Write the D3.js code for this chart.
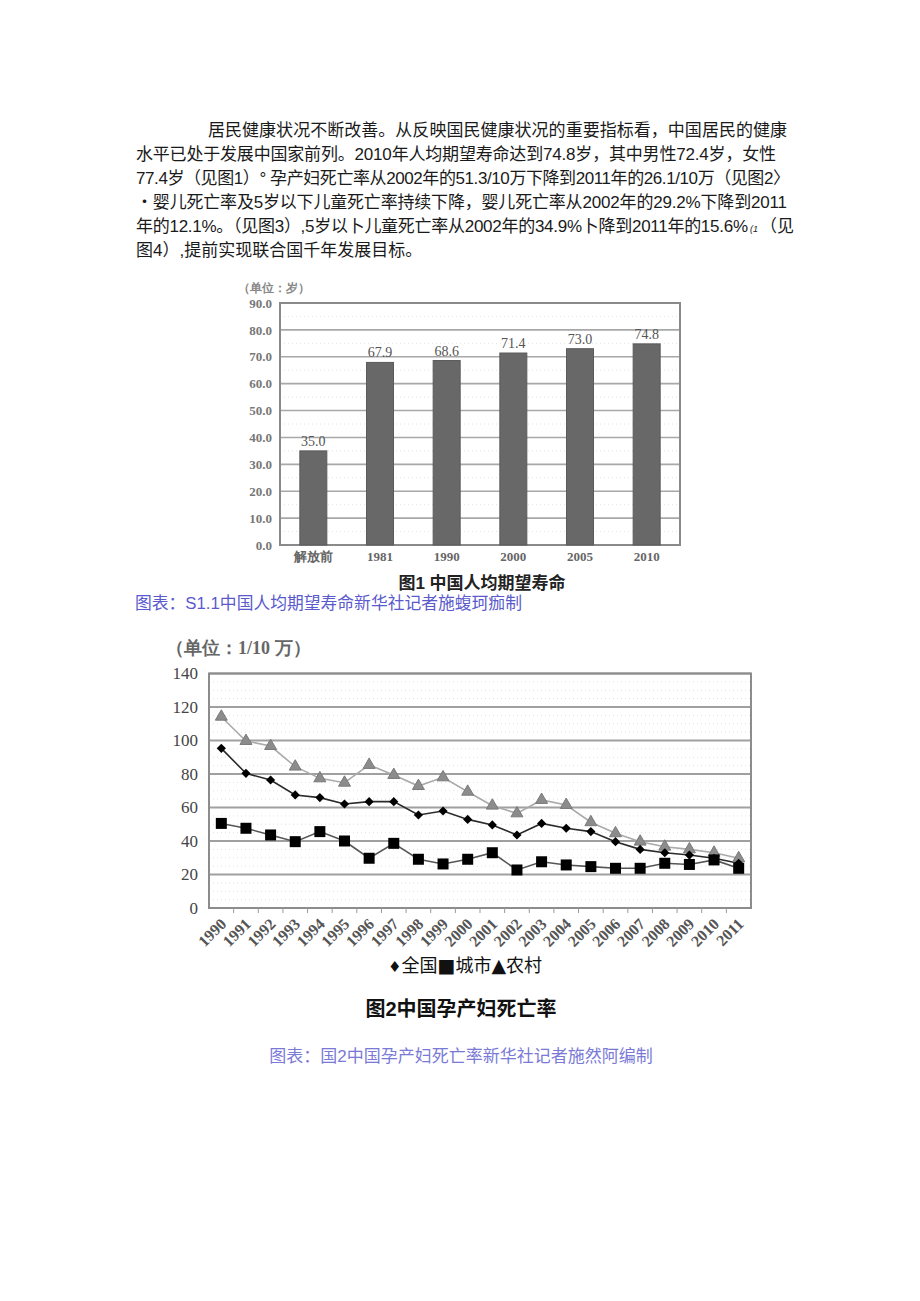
<!DOCTYPE html>
<html>
<head>
<meta charset="utf-8">
<script src="https://cdn.jsdelivr.net/npm/d3@7"></script>
<style>
  html, body { margin: 0; padding: 0; background: #fff; }
  svg { display: block; }
</style>
</head>
<body>
<div id="page"></div>
<script>
/* ---------- datos: texto de la página ---------- */
const paraLines = [
  '居民健康状况不断改善。从反映国民健康状况的重要指标看，中国居民的健康',
  '水平已处于发展中国家前列。2010年人均期望寿命达到74.8岁，其中男性72.4岁，女性',
  '77.4岁（见图1）° 孕产妇死亡率从2002年的51.3/10万下降到2011年的26.1/10万（见图2〉',
  '・婴儿死亡率及5岁以下儿童死亡率持续下降，婴儿死亡率从2002年的29.2%下降到2011',
  '年的12.1%。（见图3）,5岁以卜儿童死亡率从2002年的34.9%卜降到2011年的15.6%',
  '图4）,提前实现联合国千年发展目标。'
];

/* ---------- datos: gráfica 1 ---------- */
const lifeCats   = ['解放前', '1981', '1990', '2000', '2005', '2010'];
const lifeValues = [35.0, 67.9, 68.6, 71.4, 73.0, 74.8];
const lifeTicks  = [0, 10, 20, 30, 40, 50, 60, 70, 80, 90];

/* ---------- datos: gráfica 2 ---------- */
const years = ['1990','1991','1992','1993','1994','1995','1996','1997','1998','1999','2000',
               '2001','2002','2003','2004','2005','2006','2007','2008','2009','2010','2011'];
const national = [95.3, 80.4, 76.4, 67.5, 65.9, 62.1, 63.5, 63.5, 55.5, 57.9, 52.9,
                  49.6, 43.6, 50.5, 47.6, 45.6, 39.6, 35.0, 33.0, 31.6, 29.7, 26.7];
const urban    = [50.5, 47.6, 43.6, 39.6, 45.6, 40.0, 29.7, 38.6, 29.1, 26.3, 29.1,
                  33.0, 22.7, 27.6, 25.7, 24.7, 23.7, 23.7, 26.7, 26.0, 28.7, 23.7];
const rural    = [114.2, 99.7, 96.7, 84.4, 77.4, 74.8, 85.4, 79.4, 72.8, 78.0, 69.4,
                  61.1, 56.5, 64.5, 61.5, 51.2, 44.6, 39.6, 36.6, 35.0, 33.0, 29.7];
const mmrTicks = [0, 20, 40, 60, 80, 100, 120, 140];
const legendItems = [['♦', '全国'], ['■', '城市'], ['▲', '农村']];

const SERIF = '"Liberation Serif", "DejaVu Serif", serif';
const SANS  = '"Liberation Sans", "Noto Sans CJK SC", sans-serif';

const svg = d3.select('#page').append('svg')
  .attr('width', 920).attr('height', 1301);

svg.append('rect').attr('width', 920).attr('height', 1301).attr('fill', '#fff');

/* ---------- párrafo ---------- */
const para = svg.append('g')
  .attr('font-family', SANS)
  .attr('font-size', 17)
  .attr('fill', '#1a1a1a');

paraLines.forEach(function(line, i) {
  const x0 = i === 0 ? 208 : 136;
  const x1 = [787, 776, 790, 787, 748, null][i];
  const t = para.append('text')
    .attr('x', x0)
    .attr('y', 136 + i * 24)
    .text(line);
  if (x1) t.attr('textLength', x1 - x0).attr('lengthAdjust', 'spacing');
});
// resto de la línea 5: "(1 （见"
para.append('text').attr('x', 750).attr('y', 232)
  .attr('font-size', 9).attr('font-style', 'italic').text('(1');
para.append('text').attr('x', 760).attr('y', 232).text('（见');

/* ---------- gráfica 1 ---------- */
function renderChart1() {
  const g = svg.append('g');

  const x = d3.scaleBand()
    .domain(lifeCats)
    .range([280, 680])
    .paddingInner(0.595)
    .paddingOuter(0.2975);

  const y = d3.scaleLinear().domain([0, 90]).range([545, 303]);

  // líneas punteadas tenues
  g.selectAll('.faint').data(d3.range(5, 90, 5))
    .join('line')
      .attr('x1', 280).attr('x2', 680)
      .attr('y1', d => y(d)).attr('y2', d => y(d))
      .attr('stroke', '#e2e2e2').attr('stroke-dasharray', '1,3');

  g.selectAll('.grid').data(lifeTicks.slice(1))
    .join('line')
      .attr('x1', 280).attr('x2', 680)
      .attr('y1', d => y(d)).attr('y2', d => y(d))
      .attr('stroke', '#a8a8a8').attr('stroke-width', 1.6);

  g.append('rect')
    .attr('x', 280).attr('y', 303).attr('width', 400).attr('height', 242)
    .attr('fill', 'none').attr('stroke', '#8a8a8a').attr('stroke-width', 2);

  g.selectAll('.bar').data(lifeValues)
    .join('rect')
      .attr('x', (d, i) => x(lifeCats[i]))
      .attr('y', d => y(d))
      .attr('width', x.bandwidth())
      .attr('height', d => y(0) - y(d))
      .attr('fill', '#686868')
      .attr('stroke', '#5a5a5a');

  g.selectAll('.val').data(lifeValues)
    .join('text')
      .attr('x', (d, i) => x(lifeCats[i]) + x.bandwidth() / 2)
      .attr('y', d => y(d) - 5)
      .attr('text-anchor', 'middle')
      .attr('font-family', SERIF).attr('font-size', 14)
      .attr('fill', '#555')
      .text(d => d.toFixed(1));

  const yAxis = g.append('g')
    .attr('transform', 'translate(280,0)')
    .call(d3.axisLeft(y).tickValues(lifeTicks).tickFormat(d3.format('.1f')).tickSize(0).tickPadding(8));
  yAxis.select('.domain').remove();
  yAxis.selectAll('text')
    .attr('font-family', SERIF).attr('font-size', 13).attr('font-weight', 'bold')
    .attr('fill', '#777');

  const xAxis = g.append('g')
    .attr('transform', 'translate(0,545)')
    .call(d3.axisBottom(x).tickSize(0).tickPadding(7));
  xAxis.select('.domain').remove();
  xAxis.selectAll('text')
    .attr('font-family', SERIF).attr('font-size', 13).attr('font-weight', 'bold')
    .attr('fill', '#666');

  g.append('text')
    .attr('x', 238).attr('y', 292)
    .attr('font-family', SERIF).attr('font-size', 12).attr('font-weight', 'bold')
    .attr('fill', '#888')
    .text('（单位：岁）');

  g.append('text')
    .attr('x', 482).attr('y', 589)
    .attr('text-anchor', 'middle')
    .attr('font-family', SANS).attr('font-size', 17).attr('font-weight', 'bold')
    .attr('fill', '#222')
    .text('图1  中国人均期望寿命');

  g.append('text')
    .attr('x', 135).attr('y', 609)
    .attr('font-family', SANS).attr('font-size', 16.8)
    .attr('fill', '#5a5acc')
    .text('图表：S1.1中国人均期望寿命新华社记者施蝮珂痂制');
}

/* ---------- gráfica 2 ---------- */
function renderChart2() {
  const g = svg.append('g');

  const x = d3.scaleBand().domain(years).range([209, 751]);
  const y = d3.scaleLinear().domain([0, 140]).range([908, 673.5]);
  const cx = d => x(d) + x.bandwidth() / 2;

  g.selectAll('.faint').data(d3.range(5, 140, 5).filter(d => d % 20 !== 0))
    .join('line')
      .attr('x1', 209).attr('x2', 751)
      .attr('y1', d => y(d)).attr('y2', d => y(d))
      .attr('stroke', '#e0e0e0').attr('stroke-dasharray', '1,3');

  g.selectAll('.grid').data(mmrTicks.slice(1))
    .join('line')
      .attr('x1', 209).attr('x2', 751)
      .attr('y1', d => y(d)).attr('y2', d => y(d))
      .attr('stroke', '#a0a0a0').attr('stroke-width', 2);

  g.append('rect')
    .attr('x', 209).attr('y', 673.5).attr('width', 542).attr('height', 234.5)
    .attr('fill', 'none').attr('stroke', '#8c8c8c').attr('stroke-width', 2);

  // marcas del eje x en los límites de cada banda
  g.selectAll('.xtick').data(years.slice(1))
    .join('line')
      .attr('x1', d => x(d)).attr('x2', d => x(d))
      .attr('y1', 908).attr('y2', 913)
      .attr('stroke', '#999');

  const yAxis = g.append('g')
    .attr('transform', 'translate(209,0)')
    .call(d3.axisLeft(y).tickValues(mmrTicks).tickSize(0).tickPadding(11));
  yAxis.select('.domain').remove();
  yAxis.selectAll('text')
    .attr('font-family', SERIF).attr('font-size', 17)
    .attr('fill', '#444');

  const xAxis = g.append('g')
    .attr('transform', 'translate(0,908)')
    .call(d3.axisBottom(x).tickSize(0));
  xAxis.select('.domain').remove();
  xAxis.selectAll('text')
    .attr('y', 0).attr('dy', 0)
    .attr('transform', 'translate(6,17) rotate(-45)')
    .style('text-anchor', 'end')
    .attr('font-family', SERIF).attr('font-size', 16).attr('font-weight', 'bold')
    .attr('fill', '#555');

  const line = d3.line().x((d, i) => cx(years[i])).y(d => y(d));

  const series = [
    { values: rural,    stroke: '#aaaaaa', sym: d3.symbolTriangle, size: 62,  fill: '#8c8c8c', rot: 0 },
    { values: national, stroke: '#2a2a2a', sym: d3.symbolSquare,   size: 42,  fill: '#000',    rot: 45 },
    { values: urban,    stroke: '#555555', sym: d3.symbolSquare,   size: 121, fill: '#000',    rot: 0 }
  ];

  series.forEach(function(s) {
    g.append('path')
      .datum(s.values)
      .attr('d', line)
      .attr('fill', 'none')
      .attr('stroke', s.stroke)
      .attr('stroke-width', 1.6);
  });

  series.forEach(function(s) {
    g.selectAll(null).data(s.values)
      .join('path')
        .attr('d', d3.symbol().type(s.sym).size(s.size))
        .attr('transform', (d, i) => `translate(${cx(years[i])},${y(d)}) rotate(${s.rot})`)
        .attr('fill', s.fill)
        .attr('stroke', s.sym === d3.symbolTriangle ? '#7a7a7a' : 'none');
  });

  g.append('text')
    .attr('x', 166).attr('y', 654)
    .attr('font-family', SERIF).attr('font-size', 18).attr('font-weight', 'bold')
    .attr('fill', '#666')
    .text('（单位：1/10 万）');

  // leyenda: símbolo + nombre
  const legend = g.append('text')
    .attr('x', 465).attr('y', 972)
    .attr('text-anchor', 'middle')
    .attr('font-family', SANS).attr('font-size', 18)
    .attr('fill', '#111');
  legendItems.forEach(function(item, i) {
    legend.append('tspan')
      .attr('font-family', '"DejaVu Sans", sans-serif')
      .attr('font-size', i === 0 ? 15 : 19)
      .text(item[0]);
    legend.append('tspan').text(item[1]);
  });

  g.append('text')
    .attr('x', 461).attr('y', 1016)
    .attr('text-anchor', 'middle')
    .attr('font-family', SANS).attr('font-size', 20).attr('font-weight', 'bold')
    .attr('fill', '#111')
    .text('图2中国孕产妇死亡率');

  g.append('text')
    .attr('x', 461).attr('y', 1062)
    .attr('text-anchor', 'middle')
    .attr('font-family', SANS).attr('font-size', 17)
    .attr('fill', '#7a7ad6')
    .text('图表：国2中国孕产妇死亡率新华社记者施然阿编制');
}

renderChart1();
renderChart2();
</script>
</body>
</html>
